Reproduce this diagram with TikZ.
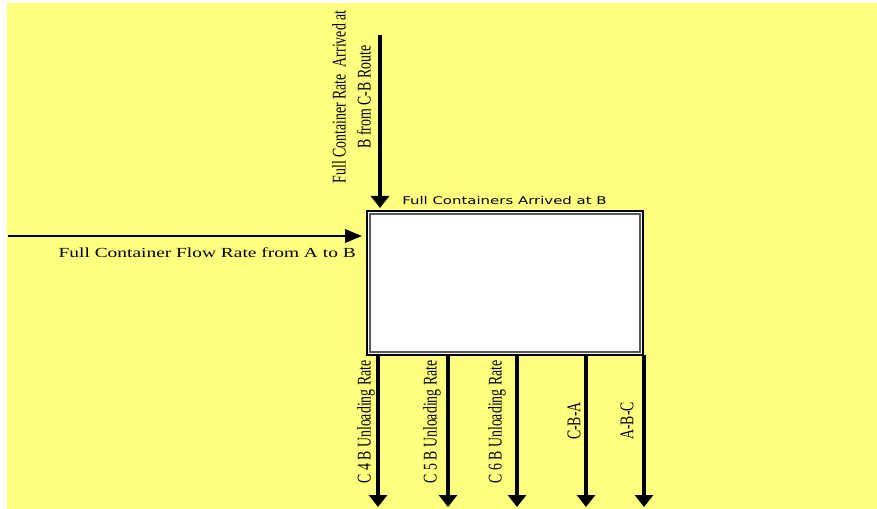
\documentclass[tikz,border=0pt]{standalone}
\usepackage{fontspec}
\usepackage{graphicx}
\setmainfont{Liberation Serif}
\newfontfamily\sansf{DejaVu Sans}
\usetikzlibrary{arrows.meta}
\definecolor{bgyellow}{RGB}{255,255,128}
\newcommand\vtxt[1]{\scalebox{1}[1.4]{#1}}
\newcommand\htxt[1]{\scalebox{1.4}[1]{#1}}
\begin{document}
\begin{tikzpicture}[x=0.75pt,y=-0.75pt,
  serif/.style={font=\fontsize{10.4}{13.4}\selectfont, inner sep=0pt},
  sanslbl/.style={font=\sansf\fontsize{8}{10}\selectfont, inner sep=0pt},
  varrow/.style={line width=2.7pt, -{Triangle[length=9pt,width=13.5pt]}},
  harrow/.style={line width=1.9pt, -{Triangle[length=12.75pt,width=10pt]}},
  stock/.style={draw=black, line width=0.8pt, fill=white, inner sep=0pt, outer sep=0pt,
    minimum width=207pt, minimum height=108pt}]
\useasboundingbox (0,0) rectangle (877,509);
\fill[bgyellow] (7,3) rectangle (877,509);

% stock box
\node[stock] (box) at (505,283) {};
\draw[gray!70!black, line width=0.8pt] ([shift={(3,3)}]box.north west) rectangle ([shift={(-3,-3)}]box.south east);
\node[sanslbl, anchor=west] (boxlbl) at (402,201) {\htxt{Full Containers Arrived at B}};

% inflow from top
\coordinate (tin) at (380,35);
\draw[varrow, shorten >=2.25pt] (tin) -- (tin |- box.north);
\node[serif, rotate=90] (tinlbl) at (353,97) {\vtxt{\begin{tabular}{@{}c@{}}Full Container Rate\ \ Arrived at\\ B from C-B Route\end{tabular}}};

% inflow from left
\coordinate (lin) at (8,236);
\draw[harrow, shorten >=3.75pt] (lin) -- (lin -| box.west);
\node[serif, anchor=east] (linlbl) at (356,253) {\htxt{Full Container Flow Rate from A to B}};

% outflows
\coordinate (o1) at (378,507);
\coordinate (o2) at (448,507);
\coordinate (o3) at (517,507);
\coordinate (o4) at (586,507);
\coordinate (o5) at (644,507);
\draw[varrow] (o1 |- box.south) -- (o1);
\draw[varrow] (o2 |- box.south) -- (o2);
\draw[varrow] (o3 |- box.south) -- (o3);
\draw[varrow] (o4 |- box.south) -- (o4);
\draw[varrow] (o5 |- box.south) -- (o5);
\node[serif, rotate=90] (o1lbl) at (366,422) {\vtxt{C 4 B Unloading Rate}};
\node[serif, rotate=90] (o2lbl) at (432,422) {\vtxt{C 5 B Unloading Rate}};
\node[serif, rotate=90] (o3lbl) at (497,422) {\vtxt{C 6 B Unloading Rate}};
\node[serif, rotate=90] (o4lbl) at (574,421) {\vtxt{C-B-A}};
\node[serif, rotate=90] (o5lbl) at (627,421) {\vtxt{A-B-C}};
\end{tikzpicture}
\end{document}
